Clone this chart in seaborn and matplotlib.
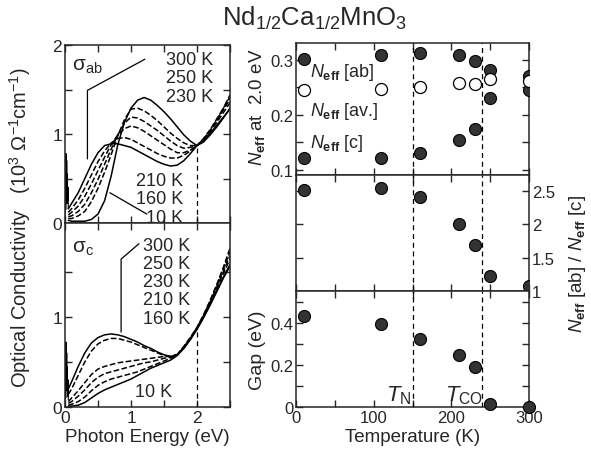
import matplotlib
matplotlib.use('Agg')
import matplotlib.pyplot as plt
from matplotlib.ticker import MultipleLocator, FixedLocator, FuncFormatter
import seaborn as sns

# photon energy grid (eV)
energy = [0.05, 0.1, 0.2, 0.3, 0.4, 0.5, 0.6, 0.7, 0.8, 0.9, 1.0, 1.1, 1.2,
          1.3, 1.4, 1.5, 1.6, 1.7, 1.8, 1.9, 2.0, 2.1, 2.2, 2.3, 2.4, 2.5]

# sigma_ab (10^3 Ohm^-1 cm^-1)
ab_300 = [0.16, 0.22, 0.34, 0.50, 0.66, 0.79, 0.87, 0.89, 0.89, 0.87, 0.85, 0.81, 0.77,
          0.73, 0.69, 0.66, 0.64, 0.65, 0.70, 0.78, 0.87, 0.93, 1.01, 1.10, 1.19, 1.28]
ab_250 = [0.12, 0.16, 0.26, 0.39, 0.54, 0.69, 0.81, 0.90, 0.95, 0.96, 0.94, 0.90, 0.86,
          0.82, 0.78, 0.75, 0.73, 0.73, 0.76, 0.81, 0.87, 0.94, 1.03, 1.13, 1.24, 1.35]
ab_230 = [0.09, 0.12, 0.19, 0.30, 0.44, 0.59, 0.74, 0.88, 0.99, 1.06, 1.09, 1.07, 1.03,
          0.98, 0.93, 0.88, 0.83, 0.79, 0.79, 0.82, 0.87, 0.94, 1.04, 1.15, 1.27, 1.39]
ab_210 = [0.07, 0.08, 0.13, 0.21, 0.34, 0.49, 0.66, 0.83, 0.99, 1.12, 1.19, 1.18, 1.14,
          1.09, 1.04, 0.98, 0.92, 0.87, 0.84, 0.85, 0.87, 0.95, 1.05, 1.17, 1.29, 1.42]
ab_160 = [0.05, 0.05, 0.08, 0.13, 0.24, 0.39, 0.57, 0.77, 0.98, 1.16, 1.28, 1.29, 1.26,
          1.21, 1.15, 1.08, 1.01, 0.95, 0.90, 0.87, 0.87, 0.94, 1.04, 1.16, 1.29, 1.44]
ab_10 = [0.03, 0.02, 0.02, 0.02, 0.04, 0.10, 0.25, 0.53, 0.88, 1.13, 1.29, 1.38, 1.41,
         1.38, 1.32, 1.25, 1.17, 1.08, 0.99, 0.92, 0.87, 0.91, 0.99, 1.08, 1.18, 1.29]

# sigma_c
c_300 = [0.20, 0.28, 0.45, 0.60, 0.71, 0.77, 0.80, 0.81, 0.80, 0.78, 0.75, 0.72, 0.68,
         0.65, 0.61, 0.58, 0.56, 0.58, 0.65, 0.75, 0.87, 1.00, 1.14, 1.29, 1.44, 1.58]
c_250 = [0.14, 0.20, 0.35, 0.50, 0.62, 0.70, 0.74, 0.76, 0.76, 0.74, 0.72, 0.69, 0.66,
         0.63, 0.60, 0.57, 0.56, 0.58, 0.66, 0.76, 0.88, 1.01, 1.16, 1.32, 1.48, 1.64]
c_230 = [0.06, 0.10, 0.18, 0.27, 0.36, 0.42, 0.45, 0.47, 0.49, 0.50, 0.51, 0.52, 0.53,
         0.54, 0.55, 0.56, 0.56, 0.58, 0.66, 0.76, 0.87, 1.01, 1.16, 1.33, 1.50, 1.68]
c_210 = [0.04, 0.06, 0.12, 0.19, 0.27, 0.33, 0.37, 0.39, 0.41, 0.43, 0.45, 0.47, 0.49,
         0.50, 0.52, 0.54, 0.55, 0.58, 0.67, 0.77, 0.88, 1.02, 1.18, 1.35, 1.53, 1.72]
c_160 = [0.02, 0.03, 0.06, 0.11, 0.18, 0.24, 0.28, 0.31, 0.33, 0.35, 0.37, 0.39, 0.42,
         0.45, 0.48, 0.51, 0.54, 0.58, 0.67, 0.77, 0.88, 1.02, 1.18, 1.36, 1.55, 1.76]
c_10 = [0.01, 0.01, 0.02, 0.05, 0.10, 0.15, 0.19, 0.22, 0.25, 0.28, 0.31, 0.35, 0.39,
        0.43, 0.46, 0.49, 0.52, 0.57, 0.65, 0.75, 0.86, 0.99, 1.13, 1.28, 1.43, 1.56]

# phonon spikes at the far-infrared end
ph_energy = [0.0, 0.006, 0.011, 0.016, 0.021, 0.026, 0.031, 0.036, 0.041, 0.046, 0.05]
ph_ab = [0.0, 0.55, 0.15, 0.78, 0.30, 0.70, 0.22, 0.55, 0.25, 0.40, 0.16]
ph_c = [0.0, 0.45, 0.10, 0.72, 0.25, 0.60, 0.18, 0.45, 0.12, 0.30, 0.08]

ab_curves = [ab_300, ab_250, ab_230, ab_210, ab_160, ab_10]
c_curves = [c_300, c_250, c_230, c_210, c_160, c_10]
curve_styles = ['-', '--', '--', '--', '--', '-']
temp_labels = ['300 K', '250 K', '230 K', '210 K', '160 K', '10 K']

# right-hand panels
temps = [10, 110, 160, 210, 230, 250, 300]
neff_ab = [0.301, 0.308, 0.311, 0.308, 0.297, 0.281, 0.270]
neff_av = [0.244, 0.246, 0.250, 0.257, 0.255, 0.264, 0.261]
neff_c = [0.122, 0.122, 0.130, 0.154, 0.175, 0.230, 0.245]
ratio = [2.51, 2.55, 2.41, 2.01, 1.69, 1.22, 1.08]
gap = [0.437, 0.395, 0.324, 0.248, 0.189, 0.016, 0.0]
t_neel, t_co = 150, 240

sns.set_style('ticks')
plt.rcParams['font.family'] = ['Liberation Sans', 'DejaVu Sans']
plt.rcParams['mathtext.fontset'] = 'custom'
plt.rcParams['mathtext.rm'] = 'Liberation Sans'
plt.rcParams['mathtext.it'] = 'Liberation Sans:italic'
plt.rcParams['mathtext.bf'] = 'Liberation Sans:bold'
plt.rcParams['xtick.direction'] = 'in'
plt.rcParams['ytick.direction'] = 'in'

W, H = 591, 456
fig = plt.figure(figsize=(W / 100, H / 100), dpi=100)


def box(x0, y0, x1, y1):
    return fig.add_axes([x0 / W, 1 - y1 / H, (x1 - x0) / W, (y1 - y0) / H])


ax_ab = box(65, 46, 230, 224)
ax_c = box(65, 224, 230, 408)
ax_n = box(296, 44, 529, 176)
ax_r = box(296, 176, 529, 292)
ax_g = box(296, 292, 529, 408)

int_fmt = FuncFormatter(lambda v, p: f"{v:g}" if abs(v - round(v)) < 1e-6 else "")

for ax, curves, ph, top, yt in [(ax_ab, ab_curves, ph_ab, 2.0, [0, 0.5, 1, 1.5, 2]),
                                (ax_c, c_curves, ph_c, 2.04, [0, 0.5, 1, 1.5])]:
    sns.lineplot(x=ph_energy, y=ph, ax=ax, color='k', lw=0.8)
    for vals, ls in zip(curves, curve_styles):
        sns.lineplot(x=energy, y=vals, ax=ax, color='k', lw=1.1, linestyle=ls)
    ax.plot([2, 2], [0, 0.87], color='k', lw=0.9, ls=(0, (4, 3)))
    ax.set_xlim(0, 2.5)
    ax.set_ylim(0, top)
    ax.xaxis.set_major_locator(MultipleLocator(0.5))
    ax.yaxis.set_major_locator(FixedLocator(yt))
    ax.xaxis.set_major_formatter(int_fmt)
    ax.yaxis.set_major_formatter(int_fmt)
    ax.tick_params(top=True, right=True, length=5, width=1, labelsize=12.5, pad=2)

ax_ab.tick_params(labelbottom=False)

# sigma_ab annotations
ax_ab.text(0.1, 1.72, 'σ$_{\\mathrm{ab}}$', fontsize=15)
for lab, yy in zip(temp_labels[:3], [1.84, 1.63, 1.42]):
    ax_ab.text(2.24, yy, lab, fontsize=13, ha='right', va='center')
for lab, yy in zip(temp_labels[3:], [0.475, 0.27, 0.065]):
    ax_ab.text(1.79, yy, lab, fontsize=13, ha='right', va='center')
ax_ab.plot([0.34, 0.34, 1.21], [0.72, 1.49, 1.84], color='k', lw=0.9)
ax_ab.plot([0.68, 1.24], [0.34, 0.10], color='k', lw=0.9)

# sigma_c annotations
ax_c.text(0.1, 1.72, 'σ$_{\\mathrm{c}}$', fontsize=15)
for lab, yy in zip(temp_labels[:5], [1.79, 1.59, 1.39, 1.19, 0.98]):
    ax_c.text(1.9, yy, lab, fontsize=13, ha='right', va='center')
ax_c.text(1.34, 0.17, temp_labels[5], fontsize=13, ha='center', va='center')
ax_c.plot([0.85, 0.85, 1.12], [0.83, 1.64, 1.81], color='k', lw=0.9)
ax_c.set_xlabel('Photon Energy (eV)', fontsize=13.5, labelpad=2)

fig.text(20 / W, 1 - 228 / H, 'Optical Conductivity   (10$^3$ Ω$^{-1}$cm$^{-1}$)',
         rotation=90, ha='center', va='center', fontsize=14.5)

# right-hand panels
for ax in (ax_n, ax_r, ax_g):
    for t in (t_neel, t_co):
        ax.axvline(t, color='k', lw=0.9, ls=(0, (4, 3)))
    ax.set_xlim(0, 300)
    ax.xaxis.set_major_locator(MultipleLocator(100))
    ax.xaxis.set_minor_locator(MultipleLocator(50))
    ax.tick_params(which='both', top=True, right=True, length=5, width=1,
                   labelsize=12, pad=2)

dot = dict(s=75, color='#333333', edgecolor='k', linewidth=0.8, zorder=3)
sns.scatterplot(x=temps, y=neff_ab, ax=ax_n, **dot)
sns.scatterplot(x=temps, y=neff_c, ax=ax_n, **dot)
sns.scatterplot(x=temps, y=neff_av, ax=ax_n, s=75, color='white', edgecolor='k',
                linewidth=0.9, zorder=4)
ax_n.set_ylim(0.091, 0.33)
ax_n.yaxis.set_major_locator(MultipleLocator(0.1))
ax_n.yaxis.set_minor_locator(MultipleLocator(0.05))
ax_n.yaxis.set_major_formatter(FuncFormatter(lambda v, p: f"{v:.1f}"))
ax_n.tick_params(labelbottom=False)
ax_n.text(18, 0.279, '$N_{\\mathbf{eff}}$ [ab]', fontsize=13, va='center')
ax_n.text(18, 0.207, '$N_{\\mathbf{eff}}$ [av.]', fontsize=13, va='center')
ax_n.text(18, 0.150, '$N_{\\mathbf{eff}}$ [c]', fontsize=13, va='center')
fig.text(257 / W, 1 - 107 / H, '$N_{\\mathbf{eff}}$ at  2.0 eV', rotation=90,
         ha='center', va='center', fontsize=13.5)

sns.scatterplot(x=temps, y=ratio, ax=ax_r, **dot)
ax_r.set_ylim(1.0, 2.74)
ax_r.yaxis.set_major_locator(MultipleLocator(0.5))
ax_r.yaxis.set_major_formatter(FuncFormatter(lambda v, p: f"{v:g}"))
ax_r.tick_params(labelbottom=False, labelleft=False, labelright=True)
fig.text(578 / W, 1 - 264 / H, '$N_{\\mathbf{eff}}$ [ab] / $N_{\\mathbf{eff}}$ [c]',
         rotation=90, ha='center', va='center', fontsize=13.5)

sns.scatterplot(x=temps, y=gap, ax=ax_g, clip_on=False, **dot)
ax_g.set_ylim(0, 0.555)
ax_g.yaxis.set_major_locator(MultipleLocator(0.2))
ax_g.yaxis.set_minor_locator(MultipleLocator(0.1))
ax_g.yaxis.set_major_formatter(FuncFormatter(lambda v, p: "0" if v == 0 else f"{v:.1f}"))
ax_g.text(132, 0.06, '$T_{\\mathrm{N}}$', fontsize=16, ha='center', va='center')
ax_g.text(216, 0.06, '$T_{\\mathrm{CO}}$', fontsize=16, ha='center', va='center')
ax_g.set_xlabel('Temperature (K)', fontsize=13.5, labelpad=2)
fig.text(257 / W, 1 - 350 / H, 'Gap (eV)', rotation=90, ha='center', va='center',
         fontsize=14)

for ax in (ax_ab, ax_c, ax_n, ax_r, ax_g):
    for sp in ax.spines.values():
        sp.set_linewidth(1.1)
    ax.set_ylabel('')

fig.text(315 / W, 1 - 18 / H, 'Nd$_{1/2}$Ca$_{1/2}$MnO$_3$', ha='center', va='center',
         fontsize=18.5)

fig.savefig('out.png', dpi=100)
